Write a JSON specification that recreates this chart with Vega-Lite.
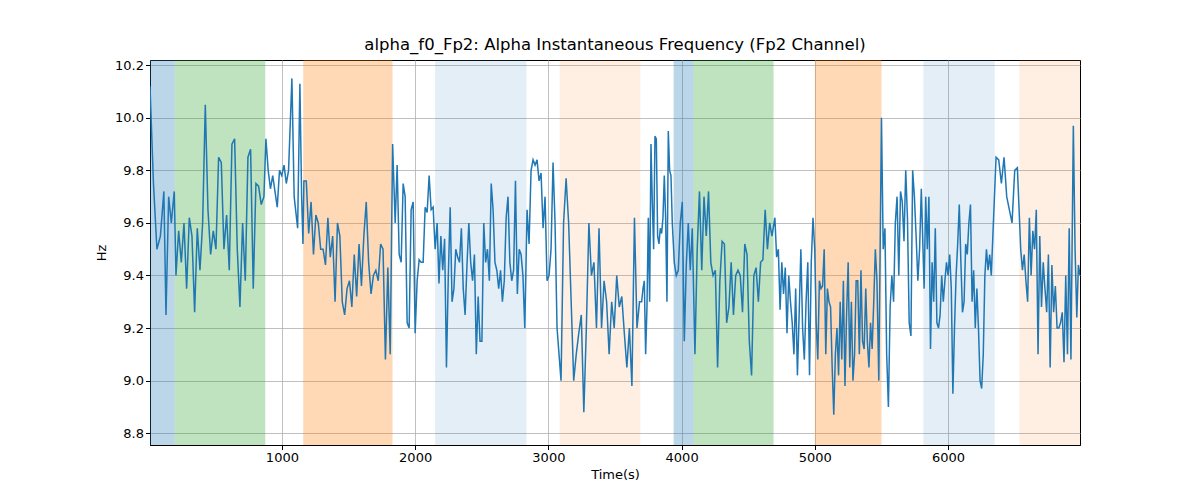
{
  "$schema": "https://vega.github.io/schema/vega-lite/v6.json",
  "width": 930,
  "height": 385,
  "autosize": "none",
  "padding": {"left": 150, "top": 60, "right": 120, "bottom": 55},
  "background": "white",
  "title": {"text": "alpha_f0_Fp2: Alpha Instantaneous Frequency (Fp2 Channel)", "font": "DejaVu Sans", "fontSize": 16.5, "fontWeight": "normal", "offset": 6},
  "datasets": {
    "bands": [
      {"start": 10, "end": 195, "kind": "a"},
      {"start": 195, "end": 875, "kind": "b"},
      {"start": 1160, "end": 1830, "kind": "c"},
      {"start": 2150, "end": 2835, "kind": "d"},
      {"start": 3085, "end": 3690, "kind": "e"},
      {"start": 3940, "end": 4090, "kind": "a"},
      {"start": 4090, "end": 4690, "kind": "b"},
      {"start": 5000, "end": 5500, "kind": "c"},
      {"start": 5815, "end": 6350, "kind": "d"},
      {"start": 6535, "end": 6990, "kind": "e"}
    ],
    "series": [
      {"t":10,"v":10.12},{"t":36,"v":9.75},{"t":62,"v":9.5},{"t":88,"v":9.55},{"t":114,"v":9.72},{"t":130,"v":9.25},{"t":150,"v":9.7},{"t":170,"v":9.6},{"t":192,"v":9.72},
      {"t":205,"v":9.4},{"t":225,"v":9.57},{"t":245,"v":9.45},{"t":265,"v":9.6},{"t":285,"v":9.35},{"t":305,"v":9.62},{"t":325,"v":9.55},{"t":345,"v":9.26},{"t":365,"v":9.58},{"t":385,"v":9.42},{"t":405,"v":9.6},{"t":425,"v":10.05},{"t":445,"v":9.65},{"t":465,"v":9.48},{"t":485,"v":9.57},{"t":505,"v":9.5},{"t":525,"v":9.85},{"t":545,"v":9.83},{"t":565,"v":9.5},{"t":585,"v":9.63},{"t":605,"v":9.42},{"t":625,"v":9.9},{"t":645,"v":9.92},{"t":665,"v":9.5},{"t":685,"v":9.28},{"t":705,"v":9.6},{"t":725,"v":9.38},{"t":745,"v":9.85},{"t":765,"v":9.88},{"t":785,"v":9.35},{"t":805,"v":9.75},{"t":825,"v":9.74},{"t":845,"v":9.67},{"t":865,"v":9.7},
      {"t":880,"v":9.92},{"t":897,"v":9.8},{"t":914,"v":9.73},{"t":931,"v":9.78},{"t":948,"v":9.72},{"t":965,"v":9.66},{"t":982,"v":9.8},{"t":999,"v":9.78},{"t":1016,"v":9.82},{"t":1033,"v":9.75},{"t":1050,"v":9.8},{"t":1075,"v":10.15},{"t":1092,"v":9.7},{"t":1118,"v":9.58},{"t":1135,"v":10.13},{"t":1148,"v":9.7},{"t":1158,"v":9.52},
      {"t":1165,"v":9.76},{"t":1183,"v":9.76},{"t":1201,"v":9.56},{"t":1219,"v":9.68},{"t":1237,"v":9.48},{"t":1255,"v":9.63},{"t":1273,"v":9.6},{"t":1291,"v":9.5},{"t":1309,"v":9.5},{"t":1327,"v":9.44},{"t":1345,"v":9.62},{"t":1363,"v":9.47},{"t":1381,"v":9.55},{"t":1399,"v":9.3},{"t":1417,"v":9.6},{"t":1435,"v":9.55},{"t":1453,"v":9.3},{"t":1471,"v":9.25},{"t":1489,"v":9.35},{"t":1507,"v":9.38},{"t":1525,"v":9.28},{"t":1543,"v":9.48},{"t":1561,"v":9.32},{"t":1579,"v":9.52},{"t":1597,"v":9.36},{"t":1615,"v":9.55},{"t":1633,"v":9.68},{"t":1651,"v":9.45},{"t":1669,"v":9.33},{"t":1687,"v":9.4},{"t":1705,"v":9.42},{"t":1723,"v":9.38},{"t":1741,"v":9.52},{"t":1759,"v":9.5},{"t":1777,"v":9.08},{"t":1795,"v":9.43},{"t":1813,"v":9.1},{"t":1831,"v":9.9},
      {"t":1850,"v":9.6},{"t":1865,"v":9.82},{"t":1880,"v":9.48},{"t":1895,"v":9.45},{"t":1910,"v":9.75},{"t":1925,"v":9.7},{"t":1940,"v":9.22},{"t":1955,"v":9.2},{"t":1970,"v":9.65},{"t":1985,"v":9.68},{"t":2000,"v":9.18},{"t":2015,"v":9.38},{"t":2030,"v":9.46},{"t":2045,"v":9.45},{"t":2060,"v":9.45},{"t":2075,"v":9.66},{"t":2090,"v":9.64},{"t":2105,"v":9.78},{"t":2120,"v":9.65},{"t":2135,"v":9.66},{"t":2150,"v":9.5},
      {"t":2165,"v":9.6},{"t":2179,"v":9.37},{"t":2193,"v":9.55},{"t":2207,"v":9.42},{"t":2221,"v":9.54},{"t":2235,"v":9.05},{"t":2249,"v":9.4},{"t":2263,"v":9.66},{"t":2277,"v":9.3},{"t":2291,"v":9.35},{"t":2305,"v":9.5},{"t":2319,"v":9.47},{"t":2333,"v":9.45},{"t":2347,"v":9.58},{"t":2361,"v":9.35},{"t":2375,"v":9.25},{"t":2389,"v":9.44},{"t":2403,"v":9.6},{"t":2417,"v":9.45},{"t":2431,"v":9.38},{"t":2445,"v":9.48},{"t":2459,"v":9.1},{"t":2473,"v":9.32},{"t":2487,"v":9.15},{"t":2501,"v":9.15},{"t":2515,"v":9.6},{"t":2529,"v":9.45},{"t":2543,"v":9.5},{"t":2557,"v":9.38},{"t":2571,"v":9.75},{"t":2585,"v":9.65},{"t":2599,"v":9.45},{"t":2613,"v":9.42},{"t":2627,"v":9.35},{"t":2641,"v":9.42},{"t":2655,"v":9.3},{"t":2669,"v":9.38},{"t":2683,"v":9.62},{"t":2697,"v":9.7},{"t":2711,"v":9.45},{"t":2725,"v":9.38},{"t":2739,"v":9.42},{"t":2753,"v":9.76},{"t":2767,"v":9.33},{"t":2781,"v":9.5},{"t":2795,"v":9.48},{"t":2809,"v":9.4},{"t":2823,"v":9.2},
      {"t":2840,"v":9.65},{"t":2855,"v":9.52},{"t":2870,"v":9.8},{"t":2885,"v":9.84},{"t":2900,"v":9.82},{"t":2915,"v":9.84},{"t":2930,"v":9.76},{"t":2945,"v":9.79},{"t":2960,"v":9.58},{"t":2975,"v":9.7},{"t":2990,"v":9.38},{"t":3005,"v":9.4},{"t":3020,"v":9.5},{"t":3035,"v":9.83},{"t":3050,"v":9.6},{"t":3065,"v":9.2},{"t":3080,"v":9.1},
      {"t":3095,"v":9.0},{"t":3114,"v":9.6},{"t":3133,"v":9.77},{"t":3152,"v":9.6},{"t":3171,"v":9.3},{"t":3190,"v":9.0},{"t":3209,"v":9.1},{"t":3228,"v":9.18},{"t":3247,"v":9.25},{"t":3266,"v":8.88},{"t":3285,"v":9.2},{"t":3304,"v":9.6},{"t":3323,"v":9.4},{"t":3342,"v":9.45},{"t":3361,"v":9.2},{"t":3380,"v":9.58},{"t":3399,"v":9.2},{"t":3418,"v":9.38},{"t":3437,"v":9.3},{"t":3456,"v":9.1},{"t":3475,"v":9.3},{"t":3494,"v":9.2},{"t":3513,"v":9.4},{"t":3532,"v":9.28},{"t":3551,"v":9.32},{"t":3570,"v":9.18},{"t":3589,"v":9.05},{"t":3608,"v":9.2},{"t":3627,"v":8.98},{"t":3646,"v":9.62},{"t":3665,"v":9.2},{"t":3684,"v":9.3},
      {"t":3700,"v":9.3},{"t":3710,"v":9.35},{"t":3720,"v":9.38},{"t":3730,"v":9.1},{"t":3740,"v":9.28},{"t":3750,"v":9.62},{"t":3760,"v":9.3},{"t":3770,"v":9.9},{"t":3780,"v":9.68},{"t":3790,"v":9.5},{"t":3800,"v":9.93},{"t":3810,"v":9.92},{"t":3820,"v":9.55},{"t":3830,"v":9.52},{"t":3840,"v":9.58},{"t":3850,"v":9.56},{"t":3860,"v":9.62},{"t":3870,"v":9.78},{"t":3880,"v":9.62},{"t":3890,"v":9.3},{"t":3900,"v":9.95},{"t":3910,"v":9.8},{"t":3920,"v":9.78},{"t":3930,"v":9.6},
      {"t":3945,"v":9.45},{"t":3960,"v":9.4},{"t":3975,"v":9.42},{"t":3990,"v":9.6},{"t":4005,"v":9.68},{"t":4020,"v":9.15},{"t":4035,"v":9.44},{"t":4050,"v":9.6},{"t":4065,"v":9.42},{"t":4080,"v":9.58},
      {"t":4100,"v":9.1},{"t":4117,"v":9.5},{"t":4134,"v":9.72},{"t":4151,"v":9.42},{"t":4168,"v":9.7},{"t":4185,"v":9.55},{"t":4202,"v":9.72},{"t":4219,"v":9.45},{"t":4236,"v":9.4},{"t":4253,"v":9.42},{"t":4270,"v":9.05},{"t":4287,"v":9.38},{"t":4304,"v":9.53},{"t":4321,"v":9.52},{"t":4338,"v":9.22},{"t":4355,"v":9.28},{"t":4372,"v":9.45},{"t":4389,"v":9.25},{"t":4406,"v":9.4},{"t":4423,"v":9.42},{"t":4440,"v":9.4},{"t":4457,"v":9.26},{"t":4474,"v":9.52},{"t":4491,"v":9.48},{"t":4508,"v":9.15},{"t":4525,"v":9.02},{"t":4542,"v":9.4},{"t":4559,"v":9.43},{"t":4576,"v":9.3},{"t":4593,"v":9.45},{"t":4610,"v":9.46},{"t":4627,"v":9.65},{"t":4644,"v":9.5},{"t":4661,"v":9.6},{"t":4678,"v":9.55},
      {"t":4700,"v":9.62},{"t":4713,"v":9.47},{"t":4726,"v":9.5},{"t":4739,"v":9.27},{"t":4752,"v":9.45},{"t":4765,"v":9.33},{"t":4778,"v":9.43},{"t":4791,"v":9.18},{"t":4804,"v":9.4},{"t":4817,"v":9.3},{"t":4830,"v":9.22},{"t":4843,"v":9.1},{"t":4856,"v":9.35},{"t":4869,"v":9.02},{"t":4882,"v":9.25},{"t":4895,"v":9.5},{"t":4908,"v":9.2},{"t":4921,"v":9.08},{"t":4934,"v":9.3},{"t":4947,"v":9.45},{"t":4960,"v":9.02},{"t":4973,"v":9.45},{"t":4986,"v":9.62},{"t":4999,"v":9.5},
      {"t":5010,"v":9.22},{"t":5022,"v":9.08},{"t":5034,"v":9.38},{"t":5046,"v":9.35},{"t":5058,"v":9.36},{"t":5070,"v":9.5},{"t":5082,"v":9.1},{"t":5094,"v":9.35},{"t":5106,"v":9.3},{"t":5118,"v":9.28},{"t":5130,"v":9.05},{"t":5142,"v":8.87},{"t":5154,"v":9.1},{"t":5166,"v":9.2},{"t":5178,"v":9.02},{"t":5190,"v":9.3},{"t":5202,"v":9.08},{"t":5214,"v":9.38},{"t":5226,"v":8.98},{"t":5238,"v":9.25},{"t":5250,"v":9.45},{"t":5262,"v":9.05},{"t":5274,"v":9.3},{"t":5286,"v":9.0},{"t":5298,"v":9.1},{"t":5310,"v":9.38},{"t":5322,"v":9.38},{"t":5334,"v":9.1},{"t":5346,"v":9.42},{"t":5358,"v":9.15},{"t":5370,"v":9.12},{"t":5382,"v":9.35},{"t":5394,"v":9.15},{"t":5406,"v":9.05},{"t":5418,"v":9.22},{"t":5430,"v":9.12},{"t":5442,"v":9.3},{"t":5454,"v":9.5},{"t":5466,"v":9.38},{"t":5480,"v":9.0},
      {"t":5500,"v":10.0},{"t":5513,"v":9.5},{"t":5526,"v":9.58},{"t":5539,"v":9.1},{"t":5552,"v":8.9},{"t":5565,"v":9.28},{"t":5578,"v":9.4},{"t":5591,"v":9.3},{"t":5604,"v":9.6},{"t":5617,"v":9.7},{"t":5630,"v":9.4},{"t":5643,"v":9.72},{"t":5656,"v":9.68},{"t":5669,"v":9.53},{"t":5682,"v":9.8},{"t":5695,"v":9.62},{"t":5708,"v":9.22},{"t":5721,"v":9.17},{"t":5734,"v":9.8},{"t":5747,"v":9.7},{"t":5760,"v":9.55},{"t":5773,"v":9.38},{"t":5786,"v":9.5},{"t":5799,"v":9.73},
      {"t":5820,"v":9.35},{"t":5832,"v":9.7},{"t":5844,"v":9.5},{"t":5856,"v":9.7},{"t":5868,"v":9.12},{"t":5880,"v":9.45},{"t":5892,"v":9.3},{"t":5904,"v":9.58},{"t":5916,"v":9.22},{"t":5928,"v":9.2},{"t":5940,"v":9.25},{"t":5952,"v":9.4},{"t":5964,"v":9.3},{"t":5976,"v":9.38},{"t":5988,"v":9.45},{"t":6000,"v":9.4},{"t":6012,"v":9.48},{"t":6024,"v":9.35},{"t":6036,"v":8.95},{"t":6048,"v":9.2},{"t":6060,"v":9.4},{"t":6072,"v":9.52},{"t":6084,"v":9.67},{"t":6096,"v":9.45},{"t":6108,"v":9.26},{"t":6120,"v":9.3},{"t":6132,"v":9.52},{"t":6144,"v":9.48},{"t":6156,"v":9.6},{"t":6168,"v":9.67},{"t":6180,"v":9.3},{"t":6192,"v":9.42},{"t":6204,"v":9.2},{"t":6216,"v":9.35},{"t":6228,"v":9.2},{"t":6240,"v":9.0},{"t":6252,"v":8.97},{"t":6264,"v":9.1},{"t":6276,"v":9.4},{"t":6288,"v":9.5},{"t":6300,"v":9.42},{"t":6312,"v":9.48},{"t":6324,"v":9.4},{"t":6336,"v":9.55},
      {"t":6360,"v":9.85},{"t":6380,"v":9.84},{"t":6400,"v":9.75},{"t":6420,"v":9.85},{"t":6440,"v":9.7},{"t":6460,"v":9.65},{"t":6480,"v":9.6},{"t":6500,"v":9.8},{"t":6520,"v":9.81},
      {"t":6545,"v":9.5},{"t":6558,"v":9.42},{"t":6571,"v":9.48},{"t":6584,"v":9.38},{"t":6597,"v":9.3},{"t":6610,"v":9.62},{"t":6623,"v":9.4},{"t":6636,"v":9.57},{"t":6649,"v":9.5},{"t":6662,"v":9.65},{"t":6675,"v":9.1},{"t":6688,"v":9.55},{"t":6701,"v":9.28},{"t":6714,"v":9.45},{"t":6727,"v":9.35},{"t":6740,"v":9.26},{"t":6753,"v":9.48},{"t":6766,"v":9.05},{"t":6779,"v":9.44},{"t":6792,"v":9.26},{"t":6805,"v":9.36},{"t":6818,"v":9.2},{"t":6831,"v":9.2},{"t":6844,"v":9.22},{"t":6857,"v":9.26},{"t":6870,"v":9.07},{"t":6883,"v":9.4},{"t":6896,"v":9.1},{"t":6909,"v":9.58},{"t":6922,"v":9.08},{"t":6940,"v":9.97},{"t":6953,"v":9.5},{"t":6966,"v":9.24},{"t":6978,"v":9.44},{"t":6990,"v":9.4}
    ]
  },
  "layer": [
    {
      "data": {"name": "bands"},
      "transform": [{"filter": "datum.kind == 'a' || datum.kind == 'b' || datum.kind == 'c'"}],
      "mark": {"type": "rect", "opacity": 0.3},
      "encoding": {
        "x": {"field": "start", "type": "quantitative", "scale": {"domain": [10, 6990], "nice": false, "zero": false}},
        "x2": {"field": "end"},
        "color": {"field": "kind", "type": "nominal", "legend": null, "scale": {"domain": ["a", "b", "c", "d", "e"], "range": ["#1f77b4", "#2ca02c", "#ff7f0e", "#1f77b4", "#ff7f0e"]}}
      }
    },
    {
      "data": {"name": "bands"},
      "transform": [{"filter": "datum.kind == 'd' || datum.kind == 'e'"}],
      "mark": {"type": "rect", "opacity": 0.12},
      "encoding": {
        "x": {"field": "start", "type": "quantitative", "scale": {"domain": [10, 6990], "nice": false, "zero": false}},
        "x2": {"field": "end"},
        "color": {"field": "kind", "type": "nominal", "legend": null, "scale": {"domain": ["a", "b", "c", "d", "e"], "range": ["#1f77b4", "#2ca02c", "#ff7f0e", "#1f77b4", "#ff7f0e"]}}
      }
    },
    {
      "data": {"name": "series"},
      "mark": {"type": "line", "color": "#1f77b4", "strokeWidth": 1.5, "clip": true},
      "encoding": {
        "x": {"field": "t", "type": "quantitative", "title": "Time(s)", "scale": {"domain": [10, 6990], "nice": false, "zero": false},
          "axis": {"values": [1000, 2000, 3000, 4000, 5000, 6000], "format": "d"}},
        "y": {"field": "v", "type": "quantitative", "title": "Hz", "scale": {"domain": [8.755, 10.22], "nice": false, "zero": false},
          "axis": {"values": [8.8, 9.0, 9.2, 9.4, 9.6, 9.8, 10.0, 10.2], "format": ".1f"}}
      }
    }
  ],
  "config": {
    "font": "DejaVu Sans",
    "view": {"stroke": "black", "strokeWidth": 1},
    "axis": {"grid": true, "gridColor": "#b0b0b0", "gridWidth": 0.8, "domainColor": "black", "tickColor": "black", "labelFontSize": 13, "titleFontSize": 13, "titleFontWeight": "normal", "labelColor": "black", "titleColor": "black", "tickSize": 4.5},
    "axisX": {"titlePadding": 4},
    "axisY": {"titlePadding": 6}
  }
}
